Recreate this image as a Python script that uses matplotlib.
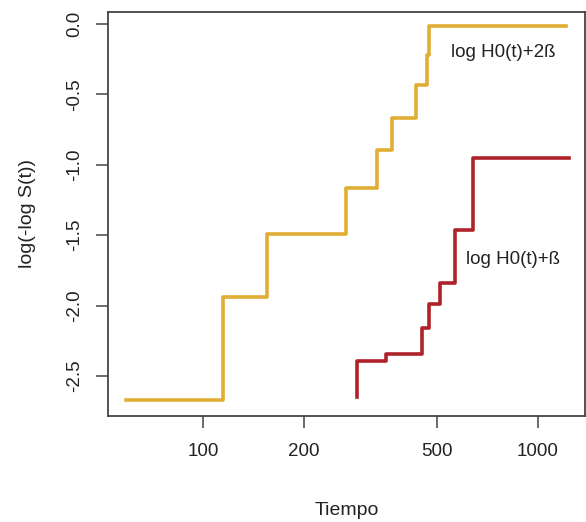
import matplotlib
matplotlib.use("Agg")
import matplotlib.pyplot as plt
from matplotlib.ticker import FixedLocator, NullLocator

plt.rcParams['font.family'] = ['Liberation Sans', 'DejaVu Sans']

# step curves
t_2b = [58.9, 114.5, 155, 266.7, 330, 365.5, 430.8, 465.6, 472.9, 1212]
v_2b = [-2.67, -1.937, -1.49, -1.167, -0.895, -0.665, -0.433, -0.22, -0.015, -0.015]

t_b = [287.6, 287.6, 351.6, 451.6, 472.9, 509.8, 564.6, 638, 1235]
v_b = [-2.647, -2.393, -2.346, -2.161, -1.989, -1.837, -1.463, -0.954, -0.954]

x_ticks = [100, 200, 500, 1000]
y_ticks = [0.0, -0.5, -1.0, -1.5, -2.0, -2.5]

gold = '#E0AE34'
red = '#AE222A'
frame = '#444444'

fig = plt.figure(figsize=(5.86, 5.22), dpi=100)
ax = fig.add_axes([0.1843, 0.203, 0.8137, 0.7746])

ax.plot(t_2b, v_2b, drawstyle='steps-post', color=gold, lw=2.6)
ax.plot(t_b, v_b, drawstyle='steps-post', color=red, lw=2.6)

ax.set_xscale('log')
ax.set_xlim(52.0, 1380)
ax.set_ylim(-2.784, 0.087)

ax.xaxis.set_major_locator(FixedLocator(x_ticks))
ax.xaxis.set_minor_locator(NullLocator())
ax.set_xticklabels([str(v) for v in x_ticks])
ax.set_yticks(y_ticks)
ax.set_yticklabels([f"{v:.1f}" for v in y_ticks], rotation=90, va='center')

for s in ax.spines.values():
    s.set_color(frame)
    s.set_linewidth(1.3)
ax.tick_params(axis='both', length=8.6, width=1.1, color=frame,
               labelsize=13.5, labelcolor='#222222')
ax.tick_params(axis='x', pad=11)
ax.tick_params(axis='y', pad=9)

ax.set_xlabel('Tiempo', fontsize=14, color='#222222', labelpad=30)
ax.set_ylabel('log(-log S(t))', fontsize=14, color='#222222', labelpad=22)

ax.text(786, -0.206, 'log H0(t)+2ß', fontsize=13.5, ha='center', va='center', color='#222222')
ax.text(845, -1.676, 'log H0(t)+ß', fontsize=13.5, ha='center', va='center', color='#222222')

fig.savefig('out.png', dpi=100)
